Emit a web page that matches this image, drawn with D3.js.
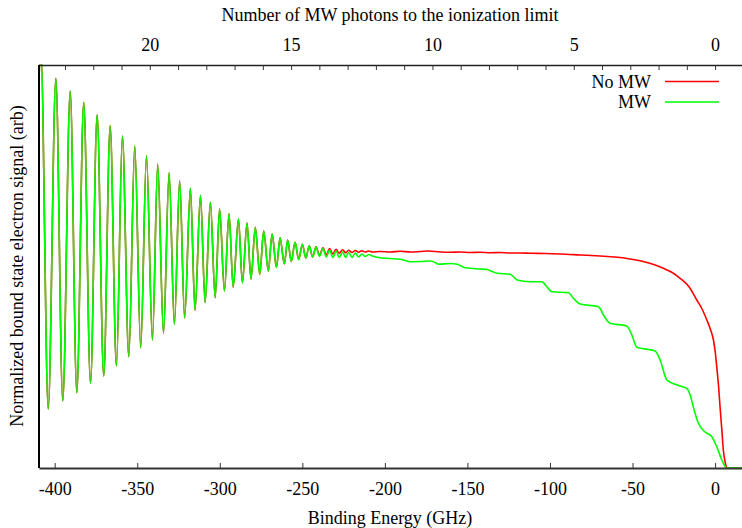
<!DOCTYPE html>
<html>
<head>
<meta charset="utf-8">
<script src="https://cdn.jsdelivr.net/npm/d3@7"></script>
<style>
  html, body { margin: 0; padding: 0; background: #fff; }
  svg { display: block; }
  text { font-family: "Liberation Serif", "Times New Roman", serif; fill: #000; }
</style>
</head>
<body>
<svg id="chart" width="742" height="528"></svg>
<script>
// ---------------- data ----------------
const xDomain = [-409.5, 16.3];          // Binding energy (GHz)
const yDomain = [0, 4.03];               // signal (arb)
const photonGHz = 17.12;                 // MW photon energy (GHz per photon)
const bottomTicks = [-400, -350, -300, -250, -200, -150, -100, -50, 0];
const topTicks = d3.range(0, 24);        // photon numbers
const topLabels = [0, 5, 10, 15, 20];

// oscillation extrema (shared abscissa)
const oscE = [-413.0, -408.3, -403.9, -399.3, -395.1, -390.6, -386.6, -382.4, -378.3, -374.3,
  -370.3, -366.4, -362.6, -359.0, -355.1, -351.5, -347.9, -344.4, -340.8, -337.6,
  -334.1, -330.7, -327.5, -324.3, -321.3, -317.8, -315.0, -311.7, -308.9, -305.7,
  -302.8, -300.1, -297.2, -294.4, -291.9, -288.7, -286.3, -283.5, -281.1, -278.5,
  -275.8, -273.4, -270.6, -268.3, -265.7, -263.5, -260.9, -258.9, -256.7, -254.4,
  -252.2, -250.0, -247.9, -245.8, -243.8, -241.7, -239.6, -237.5, -235.5, -233.5,
  -231.5, -229.6, -227.6, -225.6, -223.8, -222.0, -219.9, -217.9, -215.9, -214.0,
  -211.9, -209.7, -207.6];
const oscNoMW = [0.60, 4.13, 0.59, 3.897, 0.67, 3.77, 0.753, 3.657, 0.847, 3.533,
  0.92, 3.423, 1.02, 3.32, 1.113, 3.22, 1.203, 3.123, 1.28, 3.037,
  1.347, 2.953, 1.437, 2.873, 1.50, 2.797, 1.575, 2.727, 1.655, 2.657,
  1.703, 2.593, 1.77, 2.543, 1.807, 2.49, 1.853, 2.45, 1.89, 2.407,
  1.937, 2.37, 1.97, 2.34, 2.005, 2.303, 2.04, 2.28, 2.065, 2.257,
  2.085, 2.237, 2.10, 2.223, 2.11, 2.213, 2.125, 2.203, 2.13, 2.195,
  2.14, 2.187, 2.147, 2.182, 2.152, 2.178, 2.155, 2.175, 2.158, 2.173,
  2.16, 2.17, 2.16];
const oscMW = [0.60, 4.13, 0.59, 3.897, 0.67, 3.77, 0.753, 3.657, 0.847, 3.533,
  0.92, 3.423, 1.02, 3.32, 1.113, 3.22, 1.203, 3.123, 1.28, 3.037,
  1.347, 2.953, 1.437, 2.873, 1.50, 2.797, 1.575, 2.727, 1.655, 2.657,
  1.703, 2.593, 1.77, 2.543, 1.807, 2.49, 1.853, 2.45, 1.89, 2.407,
  1.937, 2.37, 1.97, 2.34, 2.005, 2.303, 2.04, 2.28, 2.065, 2.257,
  2.085, 2.237, 2.10, 2.223, 2.11, 2.21, 2.115, 2.195, 2.11, 2.18,
  2.105, 2.17, 2.105, 2.16, 2.105, 2.155, 2.105, 2.15, 2.11, 2.14,
  2.115, 2.135, 2.12];

// smooth parts after the oscillations
const tailE_NoMW = [-202.8, -196.7, -190.7, -184.6, -178.6, -173.7, -166.5, -160.4, -154.4, -148.3,
  -142.3, -136.2, -130.1, -124.1, -118.0, -112.0, -102.9, -93.8, -81.7, -69.6,
  -60.5, -51.5, -42.4, -36.3, -31.3, -26.0, -21.2, -15.7, -11.1, -7.9,
  -5.0, -2.7, -1.0, 0.1, 1.0, 2.1, 3.0, 4.1, 5.0, 6.1, 7.1, 16.3];
const tailNoMW = [2.165, 2.16, 2.167, 2.16, 2.165, 2.17, 2.16, 2.157, 2.16, 2.155,
  2.157, 2.153, 2.155, 2.15, 2.15, 2.147, 2.145, 2.14, 2.13, 2.12,
  2.11, 2.09, 2.06, 2.03, 1.997, 1.955, 1.897, 1.81, 1.68, 1.59,
  1.48, 1.38, 1.28, 1.16, 1.013, 0.82, 0.613, 0.38, 0.18, 0.06, 0.0, 0.0];

const tailE_MW = [-204.0, -196.7, -190.7, -187.7, -184.6, -178.6, -172.5, -169.5, -167.5, -160.4,
  -156.2, -153.8, -151.3, -142.3, -138.0, -135.0, -132.0, -124.1, -122.3, -119.9,
  -112.0, -104.9, -101.9, -98.9, -88.8, -85.8, -81.7, -70.6, -67.6, -63.6,
  -53.5, -50.4, -47.4, -36.3, -33.3, -29.2, -21.2, -17.1, -15.1, -12.7,
  -10.1, -6.1, -2.0, 1.0, 4.1, 7.1, 16.3];
const tailMW = [2.105, 2.095, 2.087, 2.075, 2.063, 2.065, 2.07, 2.055, 2.037, 2.045,
  2.037, 2.02, 2.002, 1.99, 1.985, 1.965, 1.947, 1.937, 1.915, 1.88,
  1.863, 1.863, 1.813, 1.763, 1.753, 1.697, 1.64, 1.613, 1.53, 1.447,
  1.42, 1.33, 1.207, 1.17, 1.08, 0.88, 0.82, 0.797, 0.73, 0.58,
  0.447, 0.36, 0.313, 0.213, 0.08, 0.0, 0.0];

const seriesNames = ["No MW", "MW"];
const seriesColors = ["#ff0000", "#00ff00"];

// ---------------- drawing ----------------
const svg = d3.select("#chart");
const W = 742, H = 528;
const m = { left: 39, right: 0, top: 65, bottom: 60 };
const x = d3.scaleLinear().domain(xDomain).range([m.left, W - m.right]);
const y = d3.scaleLinear().domain(yDomain).range([H - m.bottom, m.top]);
const xTop = d3.scaleLinear()
  .domain([-xDomain[0] / photonGHz, -xDomain[1] / photonGHz])
  .range([m.left, W - m.right]);

svg.append("defs").append("clipPath").attr("id", "clip")
  .append("rect").attr("x", m.left).attr("y", m.top - 1)
  .attr("width", W - m.left).attr("height", H - m.bottom - m.top + 2);

const pts = (ex, ey) => ex.map((e, i) => [e, ey[i]]);
const dataNoMW = pts(oscE, oscNoMW).concat(pts(tailE_NoMW, tailNoMW));
const dataMW = pts(oscE, oscMW).concat(pts(tailE_MW, tailMW));

const line = d3.line().x(d => x(d[0])).y(d => y(d[1])).curve(d3.curveMonotoneX);

const g = svg.append("g").attr("clip-path", "url(#clip)");
g.append("path").datum(dataNoMW).attr("d", line)
  .attr("fill", "none").attr("stroke", seriesColors[0]).attr("stroke-width", 1.6);
g.append("path").datum(dataMW).attr("d", line)
  .attr("fill", "none").attr("stroke", seriesColors[1]).attr("stroke-width", 1.6);

// axes
const axB = d3.axisBottom(x).tickValues(bottomTicks).tickSize(-5).tickSizeOuter(0)
  .tickPadding(14).tickFormat(d => String(d));
const gb = svg.append("g").attr("transform", `translate(0,${H - m.bottom})`).call(axB);
gb.selectAll("text").attr("font-size", 18).style("font-family", "Liberation Serif");
gb.select(".domain").attr("stroke", "#333").attr("stroke-width", 2);
gb.selectAll(".tick line").attr("stroke", "#333");

const axT = d3.axisTop(xTop).tickValues(topTicks).tickSize(-5).tickSizeOuter(0)
  .tickPadding(14).tickFormat(d => topLabels.includes(d) ? String(d) : "");
const gt = svg.append("g").attr("transform", `translate(0,${m.top})`).call(axT);
gt.selectAll("text").attr("font-size", 18).style("font-family", "Liberation Serif");
gt.select(".domain").attr("stroke", "#222").attr("stroke-width", 1.5);
gt.selectAll(".tick line").attr("stroke", "#333");

svg.append("line").attr("x1", m.left).attr("x2", m.left)
  .attr("y1", m.top).attr("y2", H - m.bottom)
  .attr("stroke", "#000").attr("stroke-width", 2);

// titles
svg.append("text").attr("x", 390).attr("y", 21).attr("text-anchor", "middle")
  .attr("font-size", 18).text("Number of MW photons to the ionization limit");
svg.append("text").attr("x", 390).attr("y", 524).attr("text-anchor", "middle")
  .attr("font-size", 18).text("Binding Energy (GHz)");
svg.append("text").attr("transform", "translate(23,266) rotate(-90)")
  .attr("text-anchor", "middle").attr("font-size", 18)
  .text("Normalized bound state electron signal (arb)");

// legend
const lg = svg.append("g");
seriesNames.forEach((name, i) => {
  const yy = 81.5 + i * 20.5;
  lg.append("text").attr("x", 651).attr("y", yy + 6).attr("text-anchor", "end")
    .attr("font-size", 18).text(name);
  lg.append("line").attr("x1", 665).attr("x2", 719).attr("y1", yy).attr("y2", yy)
    .attr("stroke", seriesColors[i]).attr("stroke-width", 1.6);
});
</script>
</body>
</html>
